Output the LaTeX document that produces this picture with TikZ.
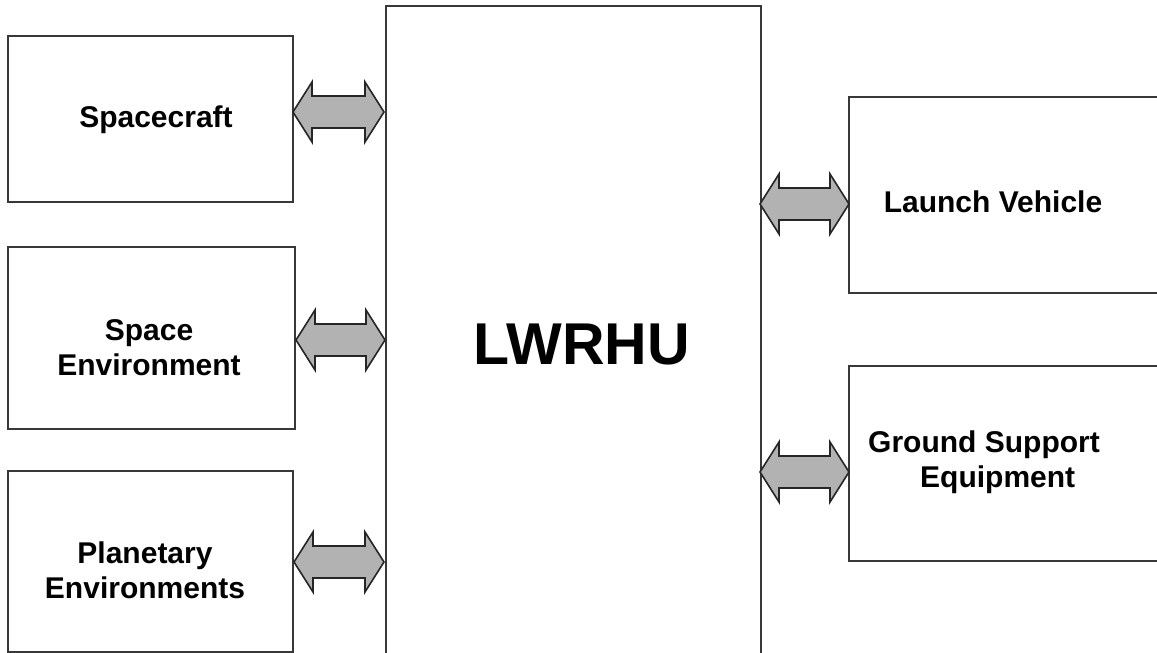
\documentclass[tikz,border=0pt]{standalone}
\usepackage{fontspec}
\setmainfont{Liberation Sans}
\usetikzlibrary{calc}
\definecolor{edge}{HTML}{383838}
\definecolor{arrfill}{HTML}{B2B2B2}
\tikzset{
  boxstyle/.style={draw=edge, line width=2pt, fill=white},
  lbl/.style={font=\bfseries\fontsize{30}{35}\selectfont, inner sep=0pt, anchor=base, align=center},
  fatarrow/.style={draw=black!85, line width=1.6pt, fill=arrfill, line join=miter},
}
% double block arrow between two named coordinates (same y)
\newcommand\dblarr[2]{%
  \draw[fatarrow] let \p1=(#1), \p2=(#2) in
    (\x1,\y1) -- (\x1+19pt,\y1+30pt) -- (\x1+19pt,\y1+16pt) -- (\x2-19pt,\y1+16pt)
    -- (\x2-19pt,\y1+30pt) -- (\x2,\y1) -- (\x2-19pt,\y1-30pt) -- (\x2-19pt,\y1-16pt)
    -- (\x1+19pt,\y1-16pt) -- (\x1+19pt,\y1-30pt) -- cycle;}
\begin{document}
\begin{tikzpicture}[x=1pt,y=-1pt]
\useasboundingbox (0,0) rectangle (1157,653);
\clip (0,0) rectangle (1157,653);
\fill[white] (0,0) rectangle (1157,653);
% boxes
\draw[boxstyle] (8,36) rectangle (293,202) node[midway, inner sep=0pt] (sc) {};
\draw[boxstyle] (8,247) rectangle (295,429) node[midway, inner sep=0pt] (se) {};
\draw[boxstyle] (8,471) rectangle (293,652) node[midway, inner sep=0pt] (pe) {};
\draw[boxstyle] (386,6) rectangle (761,680) node[midway, inner sep=0pt] (lw) {};
\draw[boxstyle] (849,97) rectangle (1170,293) node[midway, inner sep=0pt] (lv) {};
\draw[boxstyle] (849,366) rectangle (1170,561) node[midway, inner sep=0pt] (gse) {};
% labels (base anchor of a multi-line node = baseline of its last line)
\node[lbl] (tsc) at (156,127) {Spacecraft};
\node[lbl] (tse) at (149,375) {Space\\Environment};
\node[lbl] (tpe) at (145,598) {Planetary\\Environments};
\node[lbl, font=\bfseries\fontsize{59}{60}\selectfont] (tlw) at (582,364) {LWRHU};
\node[lbl] (tlv) at (993,212) {Launch Vehicle};
\node[lbl, align=left] (tgse) at (984,487) {Ground Support\\\hspace*{52pt}Equipment};
% arrow end points
\coordinate (a1l) at (293,112); \coordinate (a1r) at (384,112);
\coordinate (a2l) at (296,340); \coordinate (a2r) at (385,340);
\coordinate (a3l) at (294,562); \coordinate (a3r) at (384,562);
\coordinate (b1l) at (760,204); \coordinate (b1r) at (849,204);
\coordinate (b2l) at (760,472); \coordinate (b2r) at (849,472);
\dblarr{a1l}{a1r}
\dblarr{a2l}{a2r}
\dblarr{a3l}{a3r}
\dblarr{b1l}{b1r}
\dblarr{b2l}{b2r}
\end{tikzpicture}
\end{document}
